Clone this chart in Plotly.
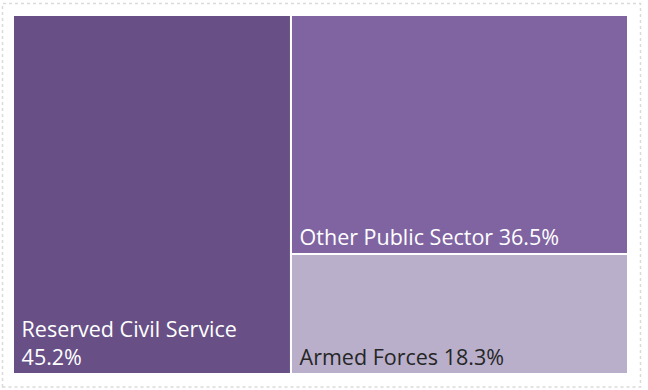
import plotly.graph_objects as go

categories = ["Reserved Civil Service", "Other Public Sector", "Armed Forces"]
shares = [45.2, 36.5, 18.3]
templates = ["\u00a0%{label}<br>\u00a0%{value:.1f}%",
             "\u00a0%{label} %{value:.1f}%",
             "\u00a0%{label} %{value:.1f}%"]
tile_colors = ["#684F86", "#8064A2", "#B9AFCA"]
text_colors = ["#FFFFFF", "#FFFFFF", "#262626"]

W, H = 648, 390
ml, mr, mt, mb = 13, 20, 15, 16

fig = go.Figure(go.Treemap(
    labels=categories,
    parents=["", "", ""],
    values=shares,
    texttemplate=templates,
    textposition="bottom left",
    textfont=dict(family="Open Sans, sans-serif", size=21.5, color=text_colors),
    marker=dict(colors=tile_colors, line=dict(color="white", width=2),
                pad=dict(t=0, l=0, r=0, b=0)),
    tiling=dict(packing="squarify", pad=0),
    pathbar=dict(visible=False),
    sort=True,
    hoverinfo="label+value",
))

pw, ph = W - ml - mr, H - mt - mb
fig.add_shape(
    type="rect", xref="paper", yref="paper",
    x0=(2.5 - ml) / pw, x1=(640.5 - ml) / pw,
    y0=(H - mb - 387) / ph, y1=(H - mb - 3.5) / ph,
    line=dict(color="#DADADA", width=1.5, dash="dot"),
)

fig.update_layout(
    width=W, height=H,
    margin=dict(l=ml, r=mr, t=mt, b=mb),
    paper_bgcolor="white",
    showlegend=False,
)

fig.write_html("out.html")
